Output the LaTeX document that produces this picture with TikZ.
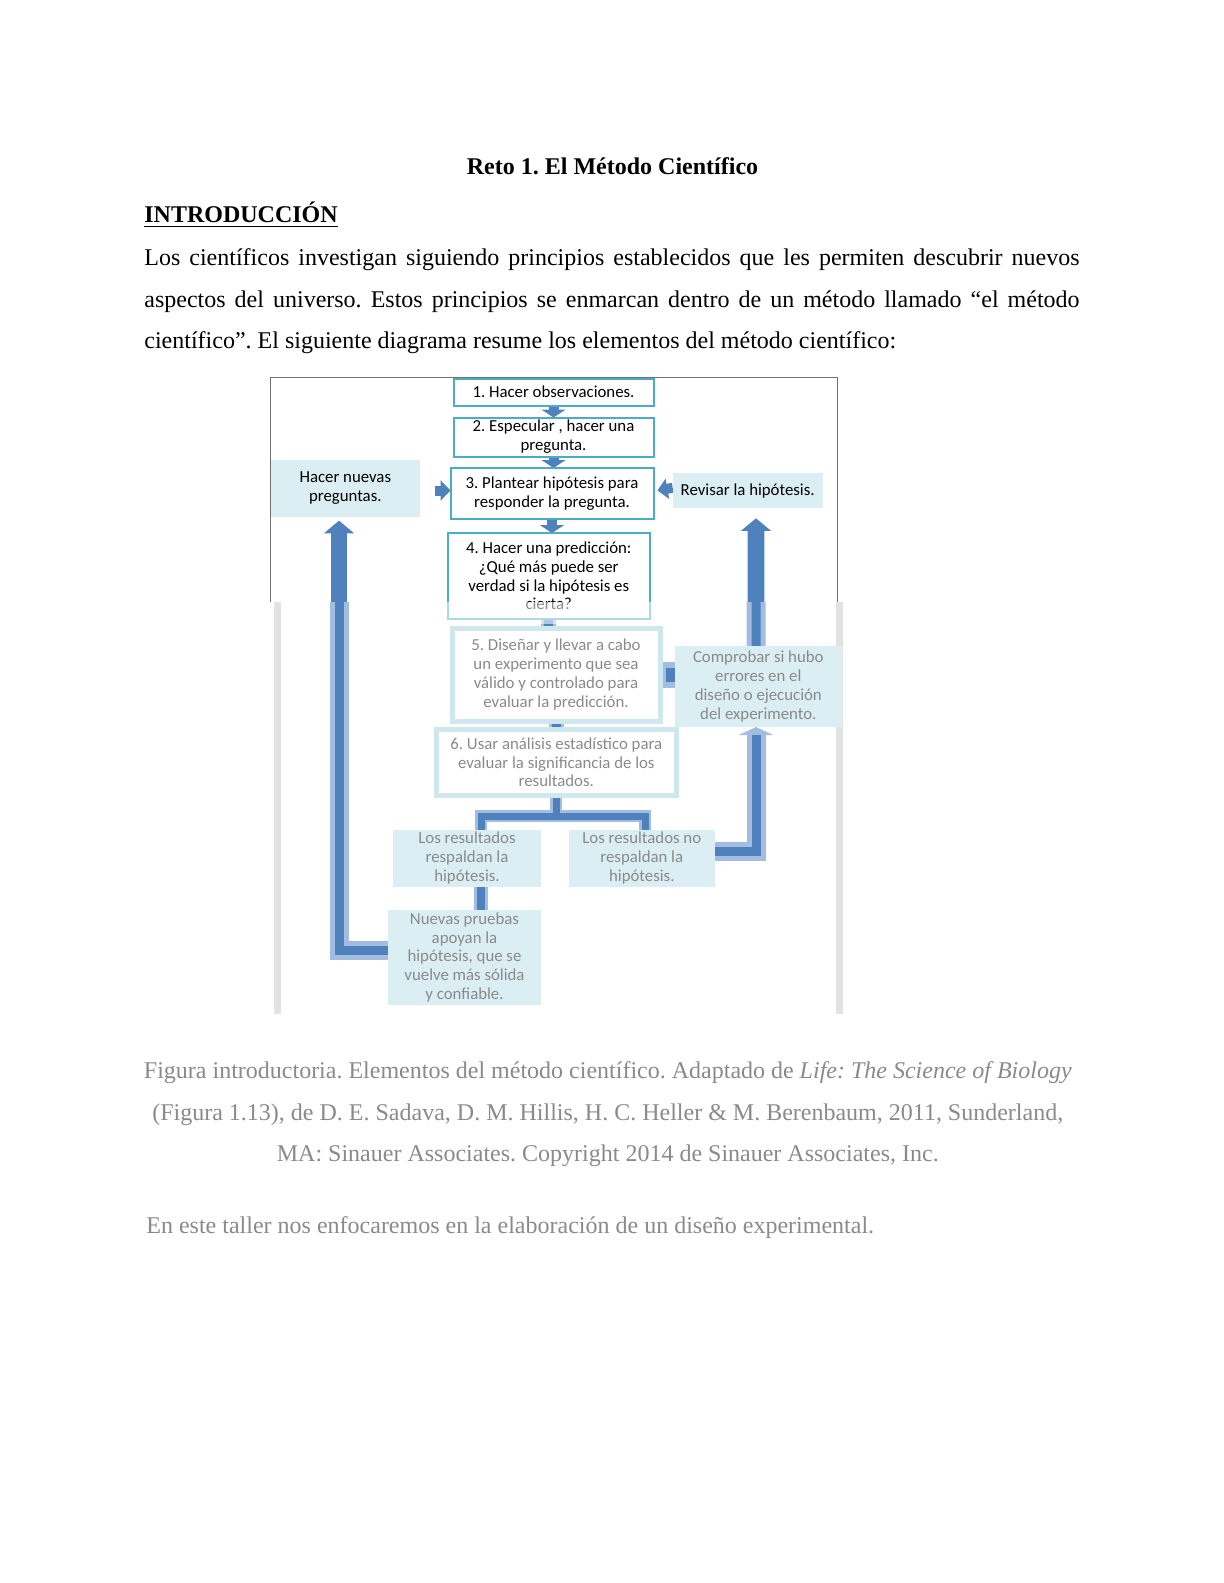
\documentclass[tikz,border=0pt]{standalone}
\usepackage{fontspec}
\setmainfont{Liberation Serif}
\newfontfamily\calibri{Carlito}
\usetikzlibrary{arrows.meta,calc}
\definecolor{boxline}{HTML}{4BACC6}
\definecolor{lightfill}{HTML}{DAEEF3}
\definecolor{arrowblue}{HTML}{4F81BD}
\definecolor{halocol}{HTML}{A3BDE0}
\definecolor{paleline}{HTML}{CFE7EE}
\definecolor{blurtext}{HTML}{8A8A8A}
\definecolor{framegray}{HTML}{707070}
\definecolor{framelight}{HTML}{E2E2E2}
\pgfdeclarelayer{bgzero}
\pgfdeclarelayer{background}
\pgfdeclarelayer{fore}
\pgfsetlayers{bgzero,background,main,fore}
\frenchspacing
\begin{document}
\begin{tikzpicture}[x=0.5pt,y=-0.5pt,
  every node/.style={inner sep=0pt, outer sep=0pt},
  body/.style={font=\fontsize{12}{14.4}\selectfont},
  dtext/.style={font=\calibri\fontsize{8.4}{9.4}\selectfont, align=center},
  mainbox/.style={dtext, draw=boxline, line width=1pt, fill=white, rectangle},
  sidebox/.style={dtext, fill=lightfill, rectangle},
  lowbox/.style={dtext, text=blurtext, draw=paleline, line width=2.5pt, fill=white, rectangle},
  lowside/.style={dtext, text=blurtext, fill=lightfill, rectangle},
  smallarrow/.style={draw=arrowblue, line width=5pt, -{Triangle[width=12pt,length=4pt]}},
  sidearrow/.style={draw=arrowblue, line width=5pt, -{Triangle[width=10pt,length=5pt]}},
  bigarrow/.style={draw=arrowblue, line width=8.3pt, -{Triangle[width=14.7pt,length=6.3pt]}},
  halo/.style={draw=halocol},
  core/.style={draw=arrowblue},
]
\begin{pgfonlayer}{bgzero}
\fill[white] (0,0) rectangle (1223,1583);
\end{pgfonlayer}
\useasboundingbox (0,0) rectangle (1223,1583);

% ---------- text ----------
\node[font=\fontsize{12}{14.4}\selectfont\bfseries, anchor=base] (title) at (612.5,175) {Reto 1. El Método Científico};
\node[font=\fontsize{12}{14.4}\selectfont\bfseries, anchor=base west] (intro) at (144.4,223) {\underline{INTRODUCCIÓN}};
\node[body, anchor=base west] (p1) at (144.4,266) {\makebox[467.6pt][s]{Los científicos investigan siguiendo principios establecidos que les permiten descubrir nuevos}};
\node[body, anchor=base west] (p2) at (144.4,307.5) {\makebox[467.6pt][s]{aspectos del universo. Estos principios se enmarcan dentro de un método llamado “el método}};
\node[body, anchor=base west] (p3) at (144.4,349) {científico”. El siguiente diagrama resume los elementos del método científico:};

% ---------- frame ----------
\draw[framegray, line width=0.6pt] (270.7,602) -- (270.7,377.7) -- (837.7,377.7) -- (837.7,602);

% ---------- crisp boxes ----------
\node[mainbox, minimum width=100pt, minimum height=13.5pt] (b1) at (553.5,392) {1. Hacer observaciones.};
\node[mainbox, minimum width=100pt, minimum height=19.5pt] (b2) at (553.5,437) {2. Especular , hacer una\\pregunta.};
\node[mainbox, minimum width=101.5pt, minimum height=25.5pt] (b3) at (552,493.5) {3. Plantear hipótesis para\\responder la pregunta.};
\node[mainbox, minimum width=101.25pt, minimum height=43pt] (b4) at (548.75,576) {4. Hacer una predicción:\\¿Qué más puede ser\\verdad si la hipótesis es\\cierta?};
\node[sidebox, minimum width=74.65pt, minimum height=28.35pt] (nq) at (345.3,488.3) {Hacer nuevas\\preguntas.};
\node[sidebox, minimum width=75pt, minimum height=17.5pt] (rev) at (747.7,490.8) {Revisar la hipótesis.};

% ---------- blurred boxes ----------
\node[lowbox, minimum width=104pt, minimum height=46.5pt] (b5) at (556,674.5) {5. Diseñar y llevar a cabo\\un experimento que sea\\válido y controlado para\\evaluar la predicción.};
\node[lowbox, minimum width=120.3pt, minimum height=33.4pt] (b6) at (556.3,762.4) {6. Usar análisis estadístico para\\evaluar la significancia de los\\resultados.};
\node[lowside, minimum width=83.35pt, minimum height=40.5pt] (rbox) at (758.3,686.5) {Comprobar si hubo\\errores en el\\diseño o ejecución\\del experimento.};
\node[lowside, minimum width=74.25pt, minimum height=28.35pt] (yes) at (467,858.3) {Los resultados\\respaldan la\\hipótesis.};
\node[lowside, minimum width=73.2pt, minimum height=28.35pt] (no) at (641.8,858.3) {Los resultados no\\respaldan la\\hipótesis.};
\node[lowside, minimum width=76.75pt, minimum height=47.4pt] (bot) at (464.5,957.4) {Nuevas pruebas\\apoyan la\\hipótesis, que se\\vuelve más sólida\\y confiable.};

% ---------- caption ----------
\node[body, text=blurtext, anchor=base] (cap1) at (607.8,1078.5) {Figura introductoria. Elementos del método científico. Adaptado de \textit{Life: The Science of Biology}};
\node[body, text=blurtext, anchor=base] (cap2) at (607.8,1120) {(Figura 1.13), de D. E. Sadava, D. M. Hillis, H. C. Heller \& M. Berenbaum, 2011, Sunderland,};
\node[body, text=blurtext, anchor=base] (cap3) at (607.8,1161) {MA: Sinauer Associates. Copyright 2014 de Sinauer Associates, Inc.};
\node[body, text=blurtext, anchor=base west] (last) at (146.4,1233) {En este taller nos enfocaremos en la elaboración de un diseño experimental.};

% ---------- connector coordinates ----------
\coordinate (Lc1) at ([yshift=3.7pt]bot.west);
\coordinate (Lc3) at ([xshift=-3.15pt,yshift=-2pt]nq.south);
\coordinate (Ru1) at ([xshift=-1.15pt]rbox.north);
\coordinate (Ru2) at ([xshift=4.15pt,yshift=-5pt]rev.south);
\coordinate (Rl1) at ([yshift=3.65pt]no.east);
\coordinate (Rl2) at ([xshift=-1.15pt]rbox.south);
\coordinate (Ya) at ([xshift=7pt]yes.north);
\coordinate (Na) at ([xshift=1.6pt]no.north);
\coordinate (Yb) at ([xshift=7pt]yes.south);

\begin{pgfonlayer}{background}
% light frame lines of blurred part
\draw[framelight, line width=3.5pt] (277,602) -- (277,1014);
\draw[framelight, line width=3.5pt] (839,602) -- (839,1014);
% crisp arrows
\draw[smallarrow] (b1.south) -- (b2.north);
\draw[smallarrow] (b2.south) -- (b2.south |- b3.north);
\draw[smallarrow] (b3.south) -- (b3.south |- b4.north);
\draw[sidearrow] ([xshift=-8pt,yshift=1.5pt]b3.west) -- ([yshift=1.5pt]b3.west);
\draw[sidearrow] ([yshift=1.5pt]rev.west) -- ([xshift=2pt,yshift=1.5pt]b3.east);
\draw[bigarrow] (Lc1) -| (Lc3);
\draw[bigarrow] (Ru1) -- (Ru2);
% blurred parts
\begin{scope}
\clip (0,602) rectangle (1223,1583);
\draw[halo, line width=9.5pt] (Lc1) -| (Lc3);
\draw[core, line width=4.5pt] (Lc1) -| (Lc3);
\draw[halo, line width=9.5pt] (Ru1) -- (Ru2);
\draw[core, line width=4.5pt] (Ru1) -- (Ru2);
\end{scope}
\draw[halo, line width=9.5pt, -{Triangle[width=17pt,length=4pt]}] (Rl1) -| (Rl2);
\draw[core, line width=4.5pt] (Rl1) -| ([yshift=-4pt]Rl2);
\draw[halo, line width=7.5pt] (b4.south) -- (b4.south |- b5.north);
\draw[core, line width=4.5pt] (b4.south) -- (b4.south |- b5.north);
\draw[halo, line width=7.5pt] (b5.south) -- (b5.south |- b6.north);
\draw[core, line width=4.5pt] (b5.south) -- (b5.south |- b6.north);
\draw[halo, line width=13pt] (rbox.west |- b5.east) -- (b5.east);
\draw[core, line width=7pt] (rbox.west |- b5.east) -- ([xshift=3pt]b5.east);
\draw[halo, line width=6pt] (b6.south) -- ++(0,20.2) -| (Ya);
\draw[halo, line width=6pt] (b6.south) -- ++(0,20.2) -| (Na);
\draw[core, line width=3.5pt] (b6.south) -- ++(0,20.2) -| (Ya);
\draw[core, line width=3.5pt] (b6.south) -- ++(0,20.2) -| (Na);
\draw[halo, line width=7pt] (Yb) -- (Yb |- bot.north);
\draw[core, line width=4pt] (Yb) -- (Yb |- bot.north);
\end{pgfonlayer}

\begin{pgfonlayer}{fore}
\begin{scope}
\clip (0,602) rectangle (1223,1583);
\fill[white, opacity=0.55] (443,590) rectangle (655,624);
\end{scope}
\end{pgfonlayer}
\end{tikzpicture}
\end{document}
